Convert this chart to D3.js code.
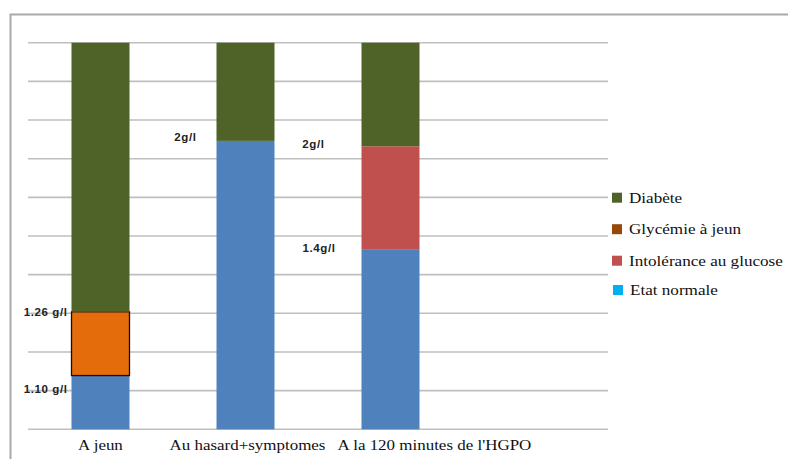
<!DOCTYPE html>
<html><head><meta charset="utf-8">
<script src="https://cdn.jsdelivr.net/npm/d3@7"></script>
<style>html,body{margin:0;padding:0;background:#fff;}</style>
</head><body>
<svg id="chart" width="788" height="459"></svg>
<script>
// Data (arbitrary height units; 10 units = full column)
const categories = ["A jeun", "Au hasard+symptomes", "A la 120 minutes de l'HGPO", ""];
const seriesNames = ["Etat normale", "Glycémie à jeun", "Intolérance au glucose", "Diabète"];
const etatNormale   = [1.39, 7.46, 4.66, 0];
const glycemieJeun  = [1.65, 0,    0,    0];
const intolerance   = [0,    0,    2.66, 0];
const diabete       = [6.96, 2.54, 2.68, 0];
const yTicks = [0,1,2,3,4,5,6,7,8,9,10];
const valueLabels = ["1.10 g/l", "1.26 g/l", "2g/l", "2g/l", "1.4g/l"];
const legendNames = ["Diabète", "Glycémie à jeun", "Intolérance au glucose", "Etat normale"];

const barColors = {"Etat normale":"#4F81BD","Glycémie à jeun":"#E46C0A","Intolérance au glucose":"#C0504D","Diabète":"#4F6228"};
const legendColors = {"Diabète":"#4F6228","Glycémie à jeun":"#974806","Intolérance au glucose":"#C0504D","Etat normale":"#00B0F0"};

const svg = d3.select("#chart");
const x = d3.scaleBand().domain(categories.map((c,i)=>i)).range([28, 608]).paddingInner(0.6).paddingOuter(0.3);
const y = d3.scaleLinear().domain([0, 10]).range([429.3, 42.7]);
const SERIF = "Liberation Serif, Times New Roman, serif";
const SANS = "Liberation Sans, Arial, sans-serif";

function widen(sel, f){
  sel.each(function(){
    const L = this.getComputedTextLength();
    d3.select(this).attr("textLength", L*f).attr("lengthAdjust","spacingAndGlyphs");
  });
}

// frame
svg.append("path").attr("d","M10.5,459 L10.5,14.5 L788,14.5")
  .attr("fill","none").attr("stroke","#a9a9a9").attr("stroke-width",2);

// gridlines
svg.append("g").selectAll("line").data(yTicks).join("line")
  .attr("x1",28).attr("x2",608).attr("y1",d=>y(d)).attr("y2",d=>y(d))
  .attr("stroke","#bfbfbf").attr("stroke-width",1.6);

// stacked bars
const table = categories.map((c,i)=>({i, "Etat normale":etatNormale[i], "Glycémie à jeun":glycemieJeun[i], "Intolérance au glucose":intolerance[i], "Diabète":diabete[i]}));
const stack = d3.stack().keys(seriesNames)(table);
svg.append("g").selectAll("g").data(stack).join("g")
  .attr("fill", d=>barColors[d.key])
  .each(function(s){
    d3.select(this).selectAll("rect").data(s.filter(d=>d[1]-d[0]>0)).join("rect")
      .attr("x", d=>x(d.data.i)).attr("width", x.bandwidth())
      .attr("y", d=>y(d[1])).attr("height", d=>y(d[0])-y(d[1]))
      .attr("stroke", s.key==="Glycémie à jeun" ? "#111" : "none")
      .attr("stroke-width", 1.3);
  });

// value labels
const b0 = x(0), b1 = x(1), b2 = x(2);
const labelPos = [
  {t:valueLabels[0], x:b0-4,  y:y(etatNormale[0])+17},
  {t:valueLabels[1], x:b0-4,  y:y(etatNormale[0]+glycemieJeun[0])+4},
  {t:valueLabels[2], x:b1-20, y:y(etatNormale[1])},
  {t:valueLabels[3], x:b2-37, y:y(etatNormale[2]+intolerance[2])+2},
  {t:valueLabels[4], x:b2-26, y:y(etatNormale[2])+3}
];
svg.append("g").selectAll("text").data(labelPos).join("text")
  .attr("x",d=>d.x).attr("y",d=>d.y).attr("text-anchor","end")
  .style("font-family",SANS).style("font-weight","bold")
  .style("font-size","11.5px").style("letter-spacing","0.6px").attr("fill","#222")
  .text(d=>d.t);

// category labels
const catOffsets = [0, 2, 44, 0];
svg.append("g").selectAll("text").data(categories).join("text")
  .attr("x",(d,i)=>x(i)+x.bandwidth()/2+catOffsets[i]).attr("y",450)
  .attr("text-anchor","middle")
  .style("font-family",SERIF).style("font-size","15px").attr("fill","#111")
  .text(d=>d)
  .call(widen, 1.13);

// legend
const legY = [197.7, 229.2, 260.7, 290];
const legX = [612, 612, 612, 613];
const lg = svg.append("g");
legendNames.forEach((n,i)=>{
  lg.append("rect").attr("x",legX[i]).attr("y",legY[i]-5).attr("width",10).attr("height",10).attr("fill",legendColors[n]);
  lg.append("text").attr("x",legX[i]+17).attr("y",legY[i]+5)
    .style("font-family",SERIF).style("font-size","15px").attr("fill","#111").text(n)
    .call(widen, 1.14);
});
</script>
</body></html>
